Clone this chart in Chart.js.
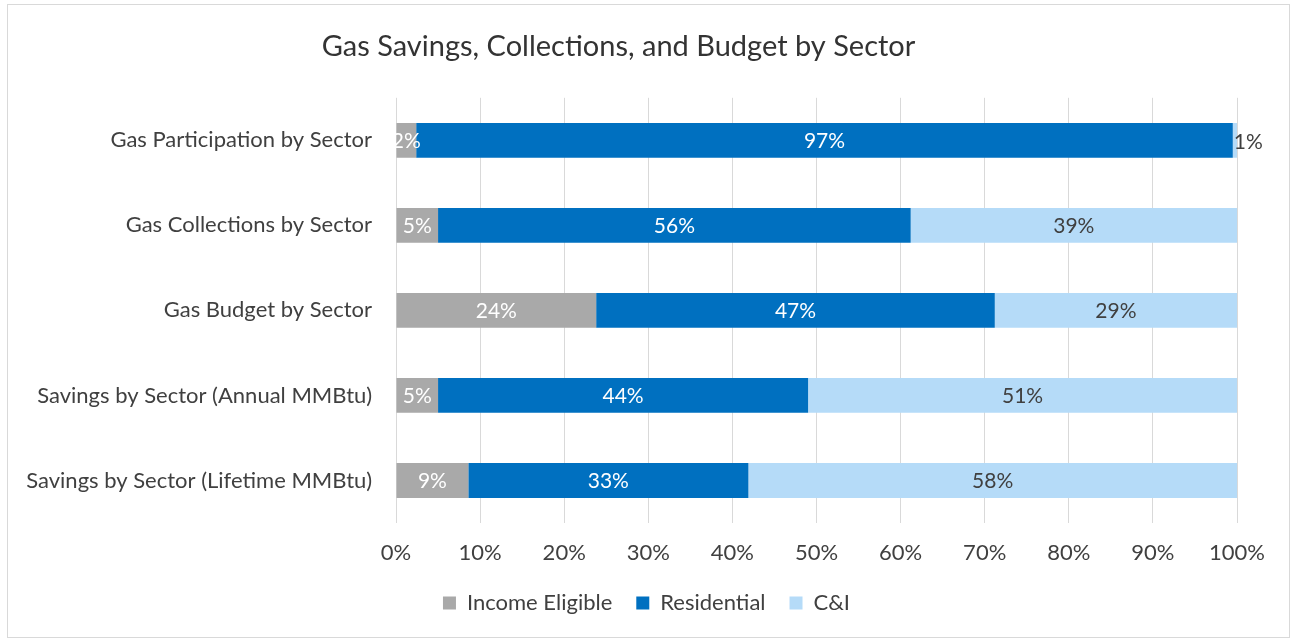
<!DOCTYPE html>
<html>
<head>
<meta charset="utf-8">
<title>Gas Savings, Collections, and Budget by Sector</title>
<script src="https://cdn.jsdelivr.net/npm/chart.js@4"></script>
<style>
  html, body { margin: 0; padding: 0; background: #fff; }
  #wrap { position: relative; width: 1293px; height: 641px; }
</style>
</head>
<body>
<div id="wrap"><canvas id="chart" width="1293" height="641"></canvas></div>
<script>
// category labels (top to bottom)
const categories = [
    'Gas Participation by Sector',
    'Gas Collections by Sector',
    'Gas Budget by Sector',
    'Savings by Sector (Annual MMBtu)',
    'Savings by Sector (Lifetime MMBtu)'
];

// share of each category, percent
const incomeEligible = [2.4, 5.0, 23.8, 5.0, 8.6];
const residential = [97.1, 56.2, 47.4, 44.0, 33.3];
const commercial = [0.5, 38.8, 28.8, 51.0, 58.1];

const FONT = 'Lato, "Open Sans", sans-serif';

// white page with a thin frame round it
const framePlugin = {
    id: 'frame',
    beforeDraw(chart) {
        const ctx = chart.ctx;
        ctx.save();
        ctx.fillStyle = '#ffffff';
        ctx.fillRect(0, 0, chart.width, chart.height);
        ctx.strokeStyle = '#d9d9d9';
        ctx.lineWidth = 1;
        ctx.strokeRect(7.5, 4.5, 1282, 633);
        ctx.restore();
    }
};

// center the legend on the whole page, not the padded layout box
const legendCenter = {
    id: 'legendCenter',
    afterLayout(chart) {
        if (!chart.legend) return;
        chart.legend.left = 10;
        chart.legend.right = chart.width - 10;
        chart.legend.width = chart.width - 20;
    }
};

// percentage labels on the bar segments
const barLabels = {
    id: 'barLabels',
    afterDatasetsDraw(chart) {
        const ctx = chart.ctx;
        ctx.save();
        ctx.font = '21px ' + FONT;
        ctx.textBaseline = 'middle';
        chart.data.datasets.forEach((ds, i) => {
            const meta = chart.getDatasetMeta(i);
            meta.data.forEach((bar, j) => {
                const v = ds.data[j];
                const text = Math.round(v) + '%';
                const left = Math.min(bar.x, bar.base);
                const w = Math.abs(bar.x - bar.base);
                ctx.fillStyle = i === 2 ? '#404040' : '#ffffff';
                if (w < 10) {
                    ctx.textAlign = 'left';
                    ctx.fillText(text, left + 1, bar.y + 2);
                } else {
                    ctx.textAlign = 'center';
                    ctx.fillText(text, left + w / 2, bar.y + 1);
                }
            });
        });
        ctx.restore();
    }
};

new Chart(document.getElementById('chart'), {
    type: 'bar',
    data: {
        labels: categories,
        datasets: [
            { label: 'Income Eligible', data: incomeEligible, backgroundColor: '#a9a9a9' },
            { label: 'Residential', data: residential, backgroundColor: '#0070c0' },
            { label: 'C&I', data: commercial, backgroundColor: '#b5dbf8' }
        ]
    },
    options: {
        indexAxis: 'y',
        responsive: false,
        animation: false,
        maintainAspectRatio: false,
        barPercentage: 0.41,
        categoryPercentage: 1,
        layout: { padding: { left: 0, right: 56, top: 0, bottom: 17 } },
        scales: {
            x: {
                stacked: true,
                min: 0,
                max: 100,
                ticks: {
                    stepSize: 10,
                    padding: 17,
                    color: '#404040',
                    font: { family: FONT, size: 22 },
                    callback: v => v + '%'
                },
                grid: { color: '#d9d9d9', drawTicks: false },
                border: { display: false },
                afterFit(scale) { scale.height = 45; }
            },
            y: {
                stacked: true,
                ticks: {
                    padding: 24,
                    color: '#404040',
                    font: { family: FONT, size: 22 }
                },
                grid: { display: false, drawTicks: false },
                border: { display: false },
                afterFit(scale) { scale.width = 396; }
            }
        },
        plugins: {
            title: {
                display: true,
                text: 'Gas Savings, Collections, and Budget by Sector',
                color: '#333333',
                font: { family: FONT, size: 29, weight: 'normal' },
                padding: { top: 29, bottom: 34 }
            },
            legend: {
                position: 'bottom',
                labels: {
                    boxWidth: 13,
                    boxHeight: 13,
                    padding: 24,
                    color: '#404040',
                    font: { family: FONT, size: 22 }
                }
            },
            tooltip: { enabled: false }
        }
    },
    plugins: [framePlugin, legendCenter, barLabels]
});
</script>
</body>
</html>
